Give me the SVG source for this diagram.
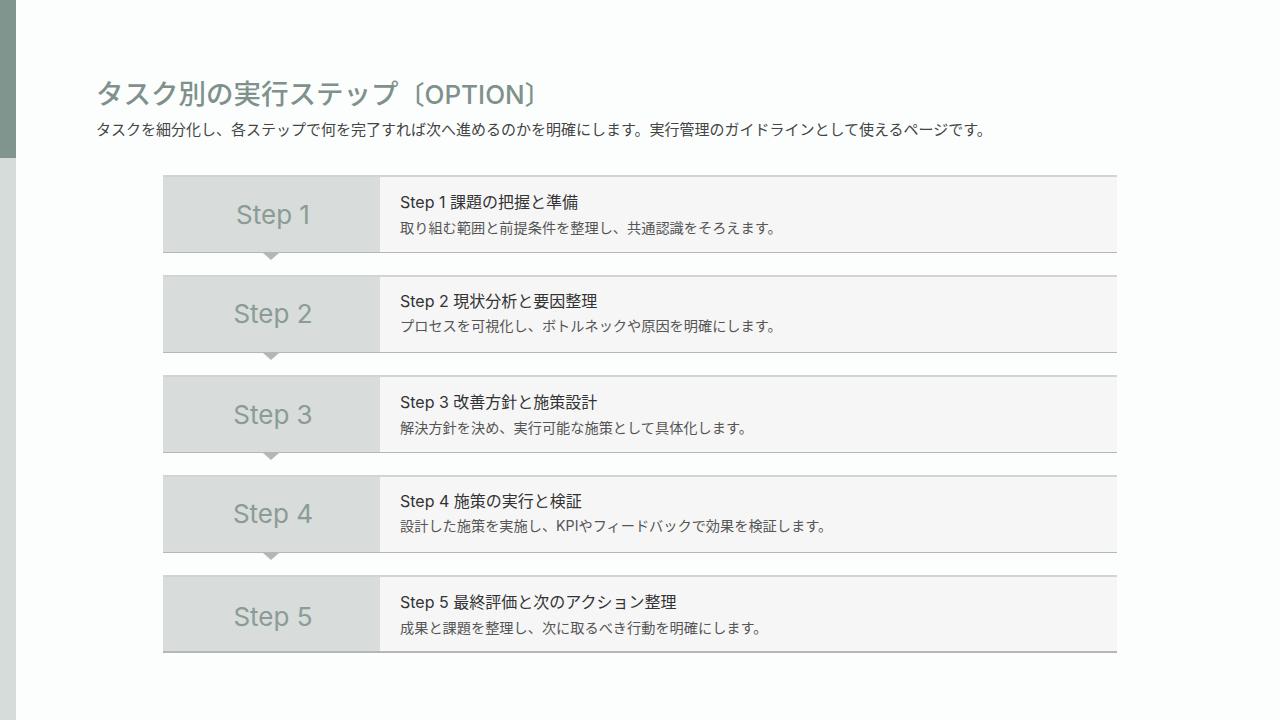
<svg xmlns="http://www.w3.org/2000/svg" width="1280" height="720" viewBox="0 0 1280 720">
<defs>
<style>
text{font-family:"Inter","Noto Sans CJK JP","Noto Sans",sans-serif}
.lc{fill:#d8dcdb}
.rc{fill:#f6f6f6}
.tb{fill:#d2d4d4}
.bb{fill:#b4b7b6}
.sl{font-size:26px;fill:#8b9b95;text-anchor:middle}
.tt{font-size:16px;fill:#333}
.ds{font-size:14.2px;fill:#555}
.arr{fill:#b4b7b6}
</style>
</defs>
<rect width="1280" height="720" fill="#fcfefd"/>
<rect x="0" y="0" width="16" height="720" fill="#d5dcda"/>
<rect x="0" y="0" width="16" height="158" fill="#7f958e"/>
<text x="96" y="104" style="font-size:27.5px;fill:#7f918b;font-weight:500">タスク別の実行ステップ<tspan style="font-size:26px">〔OPTION〕</tspan></text>
<text x="96" y="135" style="font-size:15px;fill:#444">タスクを細分化し、各ステップで何を完了すれば次へ進めるのかを明確にします。実行管理のガイドラインとして使えるページです。</text>
<g id="connectors">
<polygon class="arr" points="263,253 279,253 271,260"/>
<polygon class="arr" points="263,353 279,353 271,360"/>
<polygon class="arr" points="263,453 279,453 271,460"/>
<polygon class="arr" points="263,553 279,553 271,560"/>
</g>
<g id="step1">
<rect class="lc" x="163" y="176" width="217" height="76"/>
<rect class="rc" x="380" y="176" width="737" height="76"/>
<rect class="tb" x="163" y="175" width="954" height="2"/>
<rect class="bb" x="163" y="252" width="954" height="1"/>
<text class="sl" x="273" y="224">Step 1</text>
<text class="tt" x="400" y="208">Step 1 課題の把握と準備</text>
<text class="ds" x="400" y="233">取り組む範囲と前提条件を整理し、共通認識をそろえます。</text>
</g>
<g id="step2">
<rect class="lc" x="163" y="276" width="217" height="76"/>
<rect class="rc" x="380" y="276" width="737" height="76"/>
<rect class="tb" x="163" y="275" width="954" height="2"/>
<rect class="bb" x="163" y="352" width="954" height="1"/>
<text class="sl" x="273" y="323">Step 2</text>
<text class="tt" x="400" y="307">Step 2 現状分析と要因整理</text>
<text class="ds" x="400" y="331">プロセスを可視化し、ボトルネックや原因を明確にします。</text>
</g>
<g id="step3">
<rect class="lc" x="163" y="376" width="217" height="76"/>
<rect class="rc" x="380" y="376" width="737" height="76"/>
<rect class="tb" x="163" y="375" width="954" height="2"/>
<rect class="bb" x="163" y="452" width="954" height="1"/>
<text class="sl" x="273" y="424">Step 3</text>
<text class="tt" x="400" y="408">Step 3 改善方針と施策設計</text>
<text class="ds" x="400" y="433">解決方針を決め、実行可能な施策として具体化します。</text>
</g>
<g id="step4">
<rect class="lc" x="163" y="476" width="217" height="76"/>
<rect class="rc" x="380" y="476" width="737" height="76"/>
<rect class="tb" x="163" y="475" width="954" height="2"/>
<rect class="bb" x="163" y="552" width="954" height="1"/>
<text class="sl" x="273" y="523">Step 4</text>
<text class="tt" x="400" y="507">Step 4 施策の実行と検証</text>
<text class="ds" x="400" y="531">設計した施策を実施し、KPIやフィードバックで効果を検証します。</text>
</g>
<g id="step5">
<rect class="lc" x="163" y="576" width="217" height="76"/>
<rect class="rc" x="380" y="576" width="737" height="76"/>
<rect class="tb" x="163" y="575" width="954" height="2"/>
<rect class="bb" x="163" y="651" width="954" height="2"/>
<text class="sl" x="273" y="626">Step 5</text>
<text class="tt" x="400" y="608">Step 5 最終評価と次のアクション整理</text>
<text class="ds" x="400" y="633">成果と課題を整理し、次に取るべき行動を明確にします。</text>
</g>
</svg>
